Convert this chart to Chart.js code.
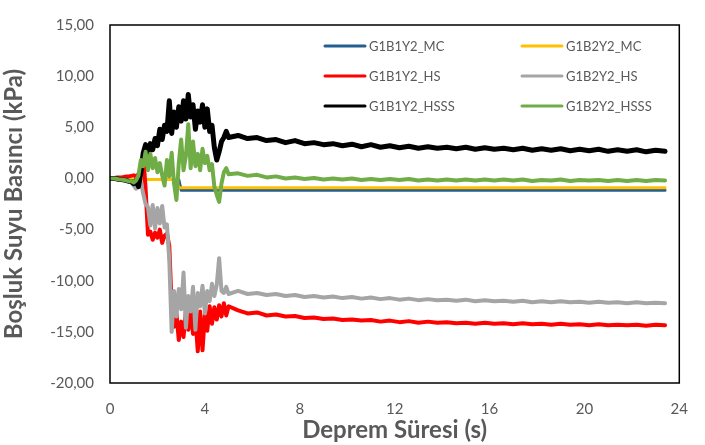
<!DOCTYPE html>
<html>
<head>
<meta charset="utf-8">
<script src="https://cdn.jsdelivr.net/npm/chart.js@4/dist/chart.umd.min.js"></script>
<style>
  html, body { margin: 0; padding: 0; background: #fff; }
  #wrap { width: 705px; height: 445px; }
</style>
</head>
<body>
<div id="wrap"><canvas id="porePressureChart" width="705" height="445"></canvas></div>
<script>
// time (s): dense during shaking, coarser afterwards
const time = [
  0, 0.1, 0.2, 0.3, 0.4, 0.5, 0.6, 0.7, 0.8, 0.9,
  1.0, 1.1, 1.2, 1.3, 1.4, 1.5, 1.6, 1.7, 1.8, 1.9,
  2.0, 2.1, 2.2, 2.3, 2.4, 2.5, 2.6, 2.7, 2.8, 2.9,
  3.0, 3.1, 3.2, 3.3, 3.4, 3.5, 3.6, 3.7, 3.8, 3.9,
  4.0, 4.1, 4.2, 4.3, 4.4, 4.5, 4.6, 4.7, 4.8, 4.9, 5.0,
  5.4, 5.8, 6.2, 6.6, 7.0, 7.4, 7.8, 8.2, 8.6, 9.0,
  9.4, 9.8, 10.2, 10.6, 11.0, 11.4, 11.8, 12.2, 12.6, 13.0,
  13.4, 13.8, 14.2, 14.6, 15.0, 15.4, 15.8, 16.2, 16.6, 17.0,
  17.4, 17.8, 18.2, 18.6, 19.0, 19.4, 19.8, 20.2, 20.6, 21.0,
  21.4, 21.8, 22.2, 22.6, 23.0, 23.4
];

const seriesNames = ['G1B1Y2_MC', 'G1B2Y2_MC', 'G1B1Y2_HS', 'G1B2Y2_HS', 'G1B1Y2_HSSS', 'G1B2Y2_HSSS'];
const seriesColors = ['#255E91', '#FFC000', '#FF0000', '#A5A5A5', '#000000', '#70AD47'];

// pore water pressure (kPa)
const g1b1y2MC = [
  0, 0, 0, 0, -0.05, -0.05, -0.05, -0.1, -0.1, -0.1,
  -0.1, -0.1, -0.1, -0.1, -0.1, -0.1, -0.1, -0.1, -0.1, -0.1,
  -0.1, -0.1, -0.1, -0.1, -0.1, -0.1, -0.1, -0.1, -0.1, -0.1,
  -1.15, -1.15, -1.15, -1.15, -1.15, -1.15, -1.15, -1.15, -1.15, -1.15,
  -1.15, -1.15, -1.15, -1.15, -1.15, -1.15, -1.15, -1.15, -1.15, -1.15, -1.15,
  -1.15, -1.15, -1.15, -1.15, -1.15, -1.15, -1.15, -1.15, -1.15, -1.15,
  -1.15, -1.15, -1.15, -1.15, -1.15, -1.15, -1.15, -1.15, -1.15, -1.15,
  -1.15, -1.15, -1.15, -1.15, -1.15, -1.15, -1.15, -1.15, -1.15, -1.15,
  -1.15, -1.15, -1.15, -1.15, -1.15, -1.15, -1.15, -1.15, -1.15, -1.15,
  -1.15, -1.15, -1.15, -1.15, -1.15, -1.15
];
const g1b2y2MC = [
  0, 0, 0, 0, -0.05, -0.05, -0.05, -0.1, -0.1, -0.1,
  -0.1, -0.1, -0.1, -0.1, -0.1, -0.1, -0.1, -0.1, -0.1, -0.1,
  -0.1, -0.1, -0.1, -0.1, -0.1, -0.1, -0.1, -0.1, -0.1, -0.9,
  -0.9, -0.9, -0.9, -0.9, -0.9, -0.9, -0.9, -0.9, -0.9, -0.9,
  -0.9, -0.9, -0.9, -0.9, -0.9, -0.9, -0.9, -0.9, -0.9, -0.9, -0.9,
  -0.9, -0.9, -0.9, -0.9, -0.9, -0.9, -0.9, -0.9, -0.9, -0.9,
  -0.9, -0.9, -0.9, -0.9, -0.9, -0.9, -0.9, -0.9, -0.9, -0.9,
  -0.9, -0.9, -0.9, -0.9, -0.9, -0.9, -0.9, -0.9, -0.9, -0.9,
  -0.9, -0.9, -0.9, -0.9, -0.9, -0.9, -0.9, -0.9, -0.9, -0.9,
  -0.9, -0.9, -0.9, -0.9, -0.9, -0.9
];
const g1b1y2HS = [
  0, 0, 0.05, 0.1, 0.1, 0.1, 0.15, 0.2, 0.2, 0.25,
  0.3, 0.2, 0.4, 0.6, 2.4, -1.0, -5.5, -5.2, -6.0, -5.3,
  -5.8, -5.0, -6.3, -5.6, -5.4, -6.6, -12.5, -14.5, -13.2, -15.8,
  -14.0, -15.5, -13.0, -14.8, -12.8, -15.2, -13.5, -16.9, -13.0, -16.8,
  -13.3, -14.9, -12.5, -14.2, -12.6, -13.8, -12.4, -13.5, -12.2, -13.4, -12.5,
  -12.9, -13.2, -13.1, -13.4, -13.3, -13.5, -13.45, -13.65, -13.6, -13.75,
  -13.7, -13.85, -13.8, -13.9, -13.85, -14.0, -13.9, -14.05, -13.95, -14.1,
  -14.0, -14.1, -14.05, -14.15, -14.1, -14.2, -14.1, -14.2, -14.15, -14.25,
  -14.15, -14.25, -14.2, -14.3, -14.2, -14.3, -14.25, -14.35, -14.25, -14.35,
  -14.3, -14.35, -14.3, -14.4, -14.3, -14.35
];
const g1b2y2HS = [
  0, 0, -0.05, -0.05, -0.1, -0.1, -0.1, -0.15, -0.2, -0.4,
  -0.7, -1.0, -0.5, -0.3, -1.5, -2.5, -2.8, -4.6, -2.6, -4.9,
  -2.9, -4.4, -2.7, -4.8, -4.5, -8.0, -15.0, -11.0, -13.5, -10.8,
  -12.8, -9.2, -14.6, -11.5, -13.0, -10.6, -14.8, -11.2, -12.5, -10.5,
  -13.2, -11.0, -12.0, -10.3, -11.5, -10.4, -7.8, -11.0, -11.2, -10.6, -11.3,
  -11.0, -11.3, -11.2, -11.4, -11.3, -11.5, -11.4, -11.6, -11.5, -11.65,
  -11.55, -11.7, -11.6, -11.75, -11.65, -11.8, -11.7, -11.85, -11.75, -11.9,
  -11.8, -11.9, -11.85, -11.95, -11.85, -12.0, -11.9, -12.0, -11.95, -12.05,
  -11.95, -12.1, -12.0, -12.1, -12.0, -12.1, -12.05, -12.15, -12.05, -12.15,
  -12.1, -12.2, -12.1, -12.2, -12.15, -12.2
];
const g1b1y2HSSS = [
  0, 0, 0, -0.05, -0.1, -0.1, -0.15, -0.2, -0.3, -0.3,
  -0.5, -0.2, -0.8, 0.5, 2.5, 3.3, 2.2, 3.4, 2.8, 3.9,
  3.2, 4.8, 3.8, 5.2, 4.6, 7.6, 4.4, 6.5, 5.0, 7.0,
  5.6, 7.6, 5.8, 8.2, 6.0, 7.2, 4.8, 6.6, 5.5, 7.2,
  5.0, 6.8, 4.6, 5.2, 3.0, 1.8, 2.6, 3.6, 4.0, 4.6, 4.0,
  4.2, 3.9, 4.0, 3.7, 3.8, 3.5, 3.7, 3.4, 3.5, 3.3,
  3.4, 3.2, 3.35, 3.1, 3.3, 3.05, 3.2, 3.0, 3.15, 2.95,
  3.1, 2.95, 3.05, 2.9, 3.05, 2.85, 3.0, 2.85, 2.95, 2.8,
  2.95, 2.75, 2.9, 2.75, 2.9, 2.7, 2.85, 2.7, 2.85, 2.65,
  2.8, 2.65, 2.8, 2.6, 2.75, 2.65
];
const g1b2y2HSSS = [
  0, 0, 0, -0.05, -0.1, -0.1, -0.15, -0.2, -0.3, -0.25,
  -0.4, -0.2, 0.3, 1.8, 1.2, 2.6, 0.8, 2.4, 1.0, 2.0,
  0.6, 1.5, 0.3, -0.7, 1.8, 0.2, 2.5, -0.5, -2.1, 1.5,
  3.8, 0.8, 2.2, 5.3, 1.0, 3.6, 1.2, 2.4, 0.8, 2.9,
  1.5, 2.2, 0.8, 1.4, -0.8, -1.6, -2.3, -0.5, 0.6, 1.0, 0.4,
  0.5, 0.25, 0.35, 0.1, 0.2, 0.0, 0.1, -0.05, 0.05, -0.1,
  0.0, -0.1, 0.0, -0.15, -0.05, -0.15, -0.05, -0.15, -0.05, -0.2,
  -0.1, -0.2, -0.1, -0.2, -0.1, -0.2, -0.1, -0.2, -0.1, -0.2,
  -0.1, -0.25, -0.15, -0.2, -0.1, -0.25, -0.15, -0.2, -0.15, -0.25,
  -0.15, -0.25, -0.15, -0.25, -0.15, -0.2
];

const seriesValues = [g1b1y2MC, g1b2y2MC, g1b1y2HS, g1b2y2HS, g1b1y2HSSS, g1b2y2HSSS];
const lineWidths = [3, 3, 4, 4, 5, 4];

const FONT = 'Lato, "Open Sans", sans-serif';
const GREY = '#595959';

// legend drawn inside the plot, 2 columns x 3 rows like the Excel original
const insideLegend = {
  id: 'insideLegend',
  afterDatasetsDraw(chart) {
    const c = chart.ctx;
    const area = chart.chartArea;
    c.save();
    c.font = '13px ' + FONT;
    c.textBaseline = 'middle';
    chart.data.datasets.forEach((ds, i) => {
      const x = area.left + 215 + (i % 2) * 197;
      const y = area.top + 21 + Math.floor(i / 2) * 30;
      c.strokeStyle = ds.borderColor;
      c.lineWidth = 3;
      c.lineCap = 'round';
      c.beginPath();
      c.moveTo(x, y);
      c.lineTo(x + 40, y);
      c.stroke();
      c.fillStyle = GREY;
      c.fillText(ds.label, x + 44, y + 1);
    });
    c.restore();
  }
};

// black frame round the plot area
const plotFrame = {
  id: 'plotFrame',
  afterDraw(chart) {
    const a = chart.chartArea;
    const c = chart.ctx;
    c.save();
    c.strokeStyle = '#000';
    c.lineWidth = 1.5;
    c.strokeRect(a.left, a.top, a.right - a.left, a.bottom - a.top);
    c.restore();
  }
};

const ctx = document.getElementById('porePressureChart').getContext('2d');

new Chart(ctx, {
  type: 'line',
  data: {
    datasets: seriesNames.map((name, i) => ({
      label: name,
      data: time.map((t, k) => ({ x: t, y: seriesValues[i][k] })),
      borderColor: seriesColors[i],
      backgroundColor: seriesColors[i],
      borderWidth: lineWidths[i],
      borderJoinStyle: 'round',
      borderCapStyle: 'round',
      pointRadius: 0,
      tension: 0,
      fill: false,
      order: seriesNames.length - i
    }))
  },
  options: {
    responsive: false,
    animation: false,
    devicePixelRatio: 1,
    layout: { padding: { top: 16, right: 8, left: 0, bottom: 0 } },
    plugins: {
      legend: { display: false },
      tooltip: { enabled: false }
    },
    scales: {
      x: {
        type: 'linear',
        min: 0,
        max: 24,
        ticks: { stepSize: 4, color: GREY, font: { family: FONT, size: 15 }, padding: 17, maxRotation: 0 },
        grid: { display: false, drawTicks: false },
        border: { display: false },
        title: {
          display: true,
          text: 'Deprem Süresi (s)',
          color: GREY,
          font: { family: FONT, size: 24, weight: 'bold' },
          padding: { top: 2, bottom: 0 }
        },
        afterFit(scale) { scale.height = 62; }
      },
      y: {
        min: -20,
        max: 15,
        ticks: {
          stepSize: 5,
          color: GREY,
          font: { family: FONT, size: 15 },
          padding: 16,
          callback: v => v.toFixed(2).replace('.', ',')
        },
        grid: { display: false, drawTicks: false },
        border: { display: false },
        title: {
          display: true,
          text: 'Boşluk Suyu Basıncı (kPa)',
          color: GREY,
          font: { family: FONT, size: 24, weight: 'bold' },
          padding: { top: 0, bottom: 0 }
        },
        afterFit(scale) { scale.width = 110; }
      }
    }
  },
  plugins: [insideLegend, plotFrame]
});
</script>
</body>
</html>
